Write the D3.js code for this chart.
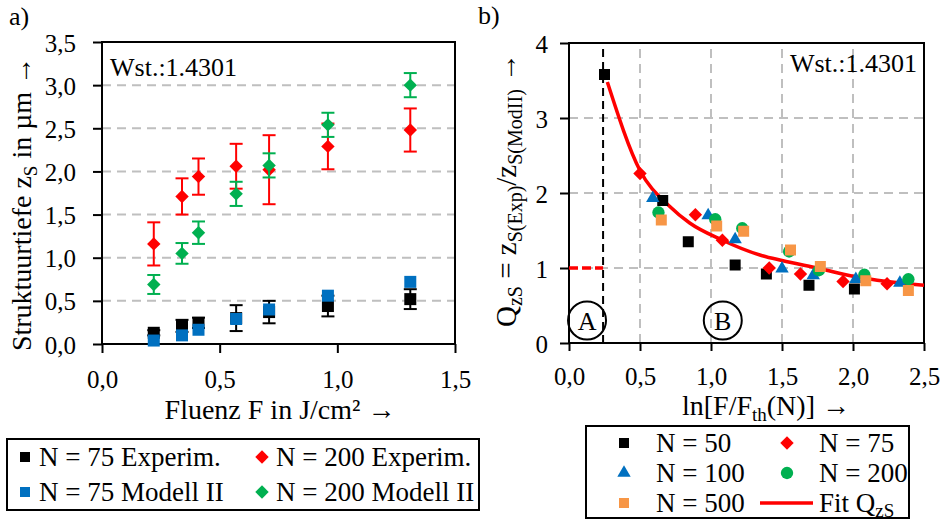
<!DOCTYPE html>
<html><head><meta charset="utf-8">
<script src="https://cdn.jsdelivr.net/npm/d3@7"></script>
<style>
body{margin:0;background:#fff}
</style></head><body>
<svg id="chart" width="947" height="520" font-family="'Liberation Serif', 'DejaVu Serif', serif"></svg>
<script>
// ---------- panel a) structure depth vs. fluence ----------
const fluence    = [0.22, 0.34, 0.41, 0.57, 0.71, 0.96, 1.31];
const expN75     = [0.13, 0.21, 0.245, 0.30, 0.37, 0.44, 0.52];
const expN75Err  = [0.03, 0.07, 0.06, 0.15, 0.13, 0.12, 0.115];
const expN200    = [1.16, 1.71, 1.94, 2.06, 2.02, 2.29, 2.48];
const expN200Err = [0.25, 0.21, 0.21, 0.26, 0.40, 0.265, 0.25];
const modN75     = [0.04, 0.10, 0.165, 0.29, 0.40, 0.56, 0.72];
const modN200    = [0.69, 1.05, 1.29, 1.74, 2.07, 2.54, 3.00];
const modN200Err = [0.11, 0.12, 0.13, 0.14, 0.14, 0.14, 0.14];
const xTicksA = [0, 0.5, 1.0, 1.5];
const xTickLabelsA = ["0,0", "0,5", "1,0", "1,5"];
const yTicksA = [0, 0.5, 1.0, 1.5, 2.0, 2.5, 3.0, 3.5];
const yTickLabelsA = ["0,0", "0,5", "1,0", "1,5", "2,0", "2,5", "3,0", "3,5"];

// ---------- panel b) ratio experiment / model ----------
const n50x  = [0.25, 0.66, 0.84, 1.17, 1.39, 1.69, 2.01];
const n50y  = [3.58, 1.90, 1.35, 1.04, 0.92, 0.77, 0.72];
const n75x  = [0.50, 0.89, 1.08, 1.41, 1.63, 1.93, 2.24];
const n75y  = [2.26, 1.71, 1.37, 1.00, 0.92, 0.82, 0.79];
const n100x = [0.59, 0.98, 1.17, 1.50, 1.72, 2.02, 2.33];
const n100y = [1.93, 1.70, 1.38, 0.99, 0.90, 0.85, 0.80];
const n200x = [0.63, 1.03, 1.22, 1.55, 1.76, 2.08, 2.39];
const n200y = [1.74, 1.65, 1.53, 1.22, 0.97, 0.91, 0.85];
const n500x = [0.65, 1.04, 1.23, 1.56, 1.77, 2.09, 2.39];
const n500y = [1.64, 1.56, 1.49, 1.24, 1.02, 0.83, 0.70];
const fitX  = [0.27, 0.50, 0.71, 0.85, 1.07, 1.35, 1.50, 1.77, 2.00, 2.24, 2.50];
const fitY  = [3.48, 2.30, 1.82, 1.60, 1.38, 1.17, 1.10, 0.99, 0.89, 0.82, 0.77];
const thresholdLn = 0.24;
const xTicksB = [0, 0.5, 1.0, 1.5, 2.0, 2.5];
const xTickLabelsB = ["0,0", "0,5", "1,0", "1,5", "2,0", "2,5"];
const yTicksB = [0, 1, 2, 3, 4];
const yTickLabelsB = ["0", "1", "2", "3", "4"];

const C = {black: "#000000", red: "#FF0000", blue: "#0070C0", green: "#00B050", orange: "#F79646", grid: "#BFBFBF"};
const SERIF = "'Liberation Serif', 'DejaVu Serif', serif";

const svg = d3.select("#chart");

// marker helpers
const diamondPath = d3.symbol(d3.symbolSquare, 90)();
const squarePath = s => d3.symbol(d3.symbolSquare, s * s)();
const trianglePath = d3.symbol(d3.symbolTriangle, 78)();
const circlePath = d3.symbol(d3.symbolCircle, 120)();

function marker(g, type, color, x, y, size) {
  if (type === "diamond") {
    g.append("path").attr("d", diamondPath).attr("fill", color)
      .attr("transform", `translate(${x},${y}) rotate(45)`);
  } else if (type === "square") {
    g.append("path").attr("d", squarePath(size || 11)).attr("fill", color)
      .attr("transform", `translate(${x},${y})`);
  } else if (type === "triangle") {
    g.append("path").attr("d", trianglePath).attr("fill", color)
      .attr("transform", `translate(${x},${y})`);
  } else if (type === "circle") {
    g.append("path").attr("d", circlePath).attr("fill", color)
      .attr("transform", `translate(${x},${y})`);
  }
}

function styleAxis(a) {
  a.attr("font-family", SERIF).attr("font-size", 25);
  a.select(".domain").remove();
  a.selectAll(".tick line").attr("stroke", "#000").attr("stroke-width", 2);
  a.selectAll("text").attr("fill", "#000");
}

// =================== panel a) ===================
const xA = d3.scaleLinear().domain([0, 1.5]).range([102, 455]);
const yA = d3.scaleLinear().domain([0, 3.5]).range([344, 42]);
const gA = svg.append("g");

gA.selectAll("line.grid").data(yTicksA.filter(v => v > 0 && v < 3.5)).join("line")
  .attr("x1", xA(0)).attr("x2", xA(1.5))
  .attr("y1", d => yA(d)).attr("y2", d => yA(d))
  .attr("stroke", C.grid).attr("stroke-width", 2).attr("stroke-dasharray", "9,6");

gA.append("rect").attr("x", xA(0)).attr("y", yA(3.5))
  .attr("width", xA(1.5) - xA(0)).attr("height", yA(0) - yA(3.5))
  .attr("fill", "none").attr("stroke", "#000").attr("stroke-width", 2);

const axAx = gA.append("g").attr("transform", `translate(0,${yA(0)})`)
  .call(d3.axisBottom(xA).tickValues(xTicksA).tickSize(9).tickFormat((d, i) => xTickLabelsA[i]));
const axAy = gA.append("g").attr("transform", `translate(${xA(0)},0)`)
  .call(d3.axisLeft(yA).tickValues(yTicksA).tickSize(9).tickFormat((d, i) => yTickLabelsA[i]));
styleAxis(axAx); styleAxis(axAy);
axAx.selectAll("text").attr("y", 44).attr("dy", 0);
axAy.selectAll("text").attr("x", -26).attr("dy", 9);

function errorBars(g, xs, ys, es, color, xs2, ys2) {
  xs.forEach((xv, i) => {
    const px = xs2(xv), top = ys2(ys[i] + es[i]), bot = ys2(ys[i] - es[i]);
    g.append("line").attr("x1", px).attr("x2", px).attr("y1", top).attr("y2", bot)
      .attr("stroke", color).attr("stroke-width", 2);
    [top, bot].forEach(yy => g.append("line").attr("x1", px - 6.5).attr("x2", px + 6.5)
      .attr("y1", yy).attr("y2", yy).attr("stroke", color).attr("stroke-width", 2));
  });
}

errorBars(gA, fluence, expN75, expN75Err, C.black, xA, yA);
fluence.forEach((f, i) => marker(gA, "square", C.black, xA(f), yA(expN75[i]), 12));
errorBars(gA, fluence, expN200, expN200Err, C.red, xA, yA);
fluence.forEach((f, i) => marker(gA, "diamond", C.red, xA(f), yA(expN200[i])));
fluence.forEach((f, i) => marker(gA, "square", C.blue, xA(f), yA(modN75[i]), 12));
errorBars(gA, fluence, modN200, modN200Err, C.green, xA, yA);
fluence.forEach((f, i) => marker(gA, "diamond", C.green, xA(f), yA(modN200[i])));

gA.append("text").attr("x", 110).attr("y", 76).attr("font-size", 26).text("Wst.:1.4301");
svg.append("text").attr("x", 9).attr("y", 25).attr("font-size", 26).text("a)");

gA.append("text").attr("x", 280).attr("y", 419).attr("text-anchor", "middle").attr("font-size", 28)
  .text("Fluenz F in J/cm² →");

const ytA = gA.append("text").attr("transform", "translate(31,204) rotate(-90)")
  .attr("text-anchor", "middle").attr("font-size", 28);
ytA.append("tspan").text("Struktuurtiefe z");
ytA.append("tspan").attr("font-size", 19).attr("dy", 6).text("S");
ytA.append("tspan").attr("dy", -6).text(" in µm →");

// legend a)
const legA = svg.append("g");
legA.append("rect").attr("x", 7).attr("y", 439).attr("width", 472).attr("height", 71)
  .attr("fill", "#fff").attr("stroke", "#000").attr("stroke-width", 2);
const legAItems = [
  {t: "N = 75 Experim.", type: "square", c: C.black, x: 25, y: 457},
  {t: "N = 200 Experim.", type: "diamond", c: C.red, x: 262, y: 457},
  {t: "N = 75 Modell II", type: "square", c: C.blue, x: 25, y: 492},
  {t: "N = 200 Modell II", type: "diamond", c: C.green, x: 262, y: 492}
];
legAItems.forEach(d => {
  marker(legA, d.type, d.c, d.x, d.y, 10);
  legA.append("text").attr("x", d.x + 14).attr("y", d.y + 9).attr("font-size", 27).text(d.t);
});

// =================== panel b) ===================
const xB = d3.scaleLinear().domain([0, 2.5]).range([569, 924]);
const yB = d3.scaleLinear().domain([0, 4]).range([343, 43]);
const gB = svg.append("g");

gB.selectAll("line.gh").data([1, 2, 3]).join("line")
  .attr("x1", xB(0)).attr("x2", xB(2.5)).attr("y1", d => yB(d)).attr("y2", d => yB(d))
  .attr("stroke", C.grid).attr("stroke-width", 2).attr("stroke-dasharray", "9,6");
gB.selectAll("line.gv").data([0.5, 1.0, 1.5, 2.0]).join("line")
  .attr("y1", yB(0)).attr("y2", yB(4)).attr("x1", d => xB(d)).attr("x2", d => xB(d))
  .attr("stroke", C.grid).attr("stroke-width", 2).attr("stroke-dasharray", "9,6");

gB.append("rect").attr("x", xB(0)).attr("y", yB(4))
  .attr("width", xB(2.5) - xB(0)).attr("height", yB(0) - yB(4))
  .attr("fill", "none").attr("stroke", "#000").attr("stroke-width", 2);

// threshold line and reference level Q = 1 below threshold
gB.append("line").attr("x1", xB(thresholdLn)).attr("x2", xB(thresholdLn))
  .attr("y1", yB(0)).attr("y2", yB(4))
  .attr("stroke", "#000").attr("stroke-width", 2).attr("stroke-dasharray", "8,5");
gB.append("line").attr("x1", xB(0)).attr("x2", xB(thresholdLn))
  .attr("y1", yB(1)).attr("y2", yB(1))
  .attr("stroke", C.red).attr("stroke-width", 3.5).attr("stroke-dasharray", "9,4");

const axBx = gB.append("g").attr("transform", `translate(0,${yB(0)})`)
  .call(d3.axisBottom(xB).tickValues(xTicksB).tickSize(8).tickFormat((d, i) => xTickLabelsB[i]));
const axBy = gB.append("g").attr("transform", `translate(${xB(0)},0)`)
  .call(d3.axisLeft(yB).tickValues(yTicksB).tickSize(9).tickFormat((d, i) => yTickLabelsB[i]));
styleAxis(axBx); styleAxis(axBy);
axBx.selectAll("text").attr("y", 42).attr("dy", 0);
axBy.selectAll("text").attr("x", -21).attr("dy", 9);

// fit curve
const fitLine = d3.line().x(d => xB(d[0])).y(d => yB(d[1])).curve(d3.curveMonotoneX);
gB.append("path").attr("d", fitLine(fitX.map((v, i) => [v, fitY[i]])))
  .attr("fill", "none").attr("stroke", C.red).attr("stroke-width", 3.5);

n50x.forEach((v, i) => marker(gB, "square", C.black, xB(v), yB(n50y[i]), 11));
n75x.forEach((v, i) => marker(gB, "diamond", C.red, xB(v), yB(n75y[i])));
n100x.forEach((v, i) => marker(gB, "triangle", C.blue, xB(v), yB(n100y[i])));
n200x.forEach((v, i) => marker(gB, "circle", C.green, xB(v), yB(n200y[i])));
n500x.forEach((v, i) => marker(gB, "square", C.orange, xB(v), yB(n500y[i]), 11));

// region labels
[["A", 0.127], ["B", 1.083]].forEach(([t, xv]) => {
  gB.append("circle").attr("cx", xB(xv)).attr("cy", yB(0.3)).attr("r", 19)
    .attr("fill", "none").attr("stroke", "#000").attr("stroke-width", 2);
  gB.append("text").attr("x", xB(xv)).attr("y", yB(0.3) + 9).attr("text-anchor", "middle")
    .attr("font-size", 26).text(t);
});

gB.append("text").attr("x", 917).attr("y", 72).attr("text-anchor", "end").attr("font-size", 26)
  .text("Wst.:1.4301");
svg.append("text").attr("x", 478).attr("y", 24).attr("font-size", 26).text("b)");

const xtB = gB.append("text").attr("x", 766).attr("y", 415).attr("text-anchor", "middle").attr("font-size", 28);
xtB.append("tspan").text("ln[F/F");
xtB.append("tspan").attr("font-size", 19).attr("dy", 6).text("th");
xtB.append("tspan").attr("dy", -6).text("(N)] →");

const ytB = gB.append("text").attr("transform", "translate(516,190) rotate(-90)")
  .attr("text-anchor", "middle").attr("font-size", 29);
ytB.append("tspan").text("Q");
ytB.append("tspan").attr("font-size", 20).attr("dy", 6).text("zS");
ytB.append("tspan").attr("dy", -6).text(" = z");
ytB.append("tspan").attr("font-size", 20).attr("dy", 6).text("S(Exp)");
ytB.append("tspan").attr("dy", -6).text("/z");
ytB.append("tspan").attr("font-size", 20).attr("dy", 6).text("S(ModII)");
ytB.append("tspan").attr("dy", -6).text(" →");

// legend b)
const legB = svg.append("g");
legB.append("rect").attr("x", 586).attr("y", 426).attr("width", 323).attr("height", 92)
  .attr("fill", "#fff").attr("stroke", "#000").attr("stroke-width", 2);
const legBItems = [
  {t: "N = 50", type: "square", c: C.black, x: 624, y: 443},
  {t: "N = 75", type: "diamond", c: C.red, x: 787, y: 443},
  {t: "N = 100", type: "triangle", c: C.blue, x: 624, y: 473},
  {t: "N = 200", type: "circle", c: C.green, x: 787, y: 473},
  {t: "N = 500", type: "square", c: C.orange, x: 624, y: 503}
];
legBItems.forEach(d => {
  marker(legB, d.type, d.c, d.x, d.y, 10);
  legB.append("text").attr("x", d.x + 32).attr("y", d.y + 9).attr("font-size", 27).text(d.t);
});
legB.append("line").attr("x1", 760).attr("x2", 813).attr("y1", 503).attr("y2", 503)
  .attr("stroke", C.red).attr("stroke-width", 3.5);
const fitLbl = legB.append("text").attr("x", 819).attr("y", 512).attr("font-size", 27);
fitLbl.append("tspan").text("Fit Q");
fitLbl.append("tspan").attr("font-size", 19).attr("dy", 5).text("zS");
</script></body></html>
